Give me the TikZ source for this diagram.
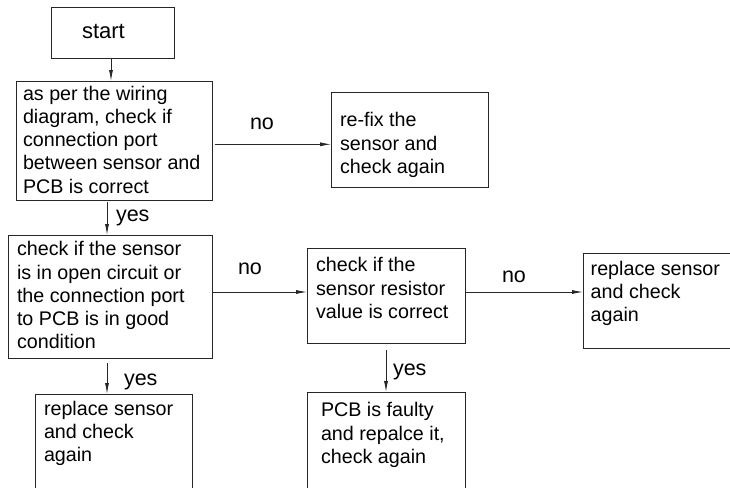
\documentclass[tikz,border=0pt]{standalone}
\usepackage{fontspec}
\setmainfont{Liberation Sans}
\usetikzlibrary{arrows.meta}
\tikzset{
  box/.style={draw=black!85, line width=0.9pt, rectangle, anchor=north west, inner sep=0pt, outer sep=0pt},
  txt/.style={anchor=base west, inner sep=0pt, outer sep=0pt, font=\fontsize{19.7}{23.3}\selectfont},
  lbl/.style={anchor=base west, inner sep=0pt, outer sep=0pt, font=\fontsize{21.5}{24}\selectfont},
  arr/.style={draw=black!85, line width=0.8pt, -{Latex[length=11pt,width=4pt]}}
}
\newcommand{\lines}[1]{\parbox[t]{8cm}{\raggedright #1}}
\begin{document}
\begin{tikzpicture}[x=1pt,y=-1pt]
\useasboundingbox (0,0) rectangle (730,487);
\clip (0,0) rectangle (730,487);
% boxes
\node[box, minimum width=123pt, minimum height=51pt] (b1) at (51,7) {};
\node[box, minimum width=196pt, minimum height=119pt] (b2) at (16,81) {};
\node[box, minimum width=157pt, minimum height=95pt] (b3) at (331,92) {};
\node[box, minimum width=204pt, minimum height=123pt] (b4) at (8,235) {};
\node[box, minimum width=158pt, minimum height=95pt] (b5) at (307,248) {};
\node[box, minimum width=160pt, minimum height=95pt] (b6) at (583,253) {};
\node[box, minimum width=157pt, minimum height=110pt] (b7) at (35,394) {};
\node[box, minimum width=158pt, minimum height=110pt] (b8) at (307,392) {};
% texts
\node[txt, font=\fontsize{22}{26}\selectfont] (t1) at (82,38.5) {start};
\node[txt] (t2) at (23,100) {\lines{as per the wiring\\diagram, check if\\connection port\\between sensor and\\PCB is correct}};
\node[txt] (t3) at (340,126.7) {\lines{re-fix the\\sensor and\\check again}};
\node[txt] (t4) at (17,255.7) {\lines{check if the sensor\\is in open circuit or\\the connection port\\to PCB is in good\\condition}};
\node[txt] (t5) at (316,271.7) {\lines{check if the\\sensor resistor\\value is correct}};
\node[txt] (t6) at (590.7,275) {\lines{replace sensor\\and check\\again}};
\node[txt] (t7) at (44,415) {\lines{replace sensor\\and check\\again}};
\node[txt] (t8) at (321,416.7) {\lines{PCB is faulty\\and repalce it,\\check again}};
% labels
\node[lbl] (l1) at (250,129.3) {no};
\node[lbl] (l2) at (116,221.7) {yes};
\node[lbl] (l3) at (238,274.3) {no};
\node[lbl] (l4) at (502,282.7) {no};
\node[lbl] (l5) at (124,385.7) {yes};
\node[lbl] (l6) at (393,375) {yes};
% guide coordinates
\coordinate (c1) at (111,0);
\coordinate (c2) at (107,0);
\coordinate (c3) at (386,0);
\coordinate (r1) at (0,144.3);
\coordinate (r2) at (0,292);
% connectors
\draw[arr] (b1.south -| c1) -- (b2.north -| c1);
\draw[arr, shorten <=3pt] (b2.east |- r1) -- (b3.west |- r1);
\draw[arr, shorten <=2pt] (b2.south -| c2) -- (b4.north -| c2);
\draw[arr] (b4.east |- r2) -- (b5.west |- r2);
\draw[arr] (b5.east |- r2) -- (b6.west |- r2);
\draw[arr, shorten <=5pt] (b4.south -| c2) -- (b7.north -| c2);
\draw[arr, shorten <=7pt] (b5.south -| c3) -- (b8.north -| c3);
\end{tikzpicture}
\end{document}
